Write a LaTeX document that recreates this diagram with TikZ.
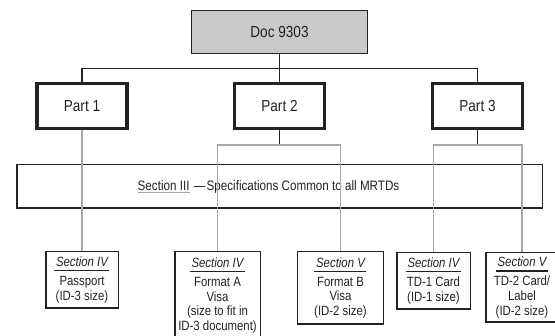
\documentclass[tikz,border=0pt]{standalone}
\usepackage{fontspec}
\setmainfont{Liberation Sans}[FakeStretch=0.85]
\usepackage{xcolor}

\definecolor{docgray}{HTML}{C9C9C9}
\definecolor{wiregray}{HTML}{A8A8A8}
\definecolor{ink}{HTML}{222222}

% underlined italic heading of a section box
\newcommand\secttl[1]{\setbox0\hbox{\itshape #1}\rlap{\kern-2pt\color{ink}\vrule width \dimexpr\wd0+3.5pt\relax height -3.3pt depth 4.8pt}\box0}
% thin grey underline
\newcommand\secthree[1]{\setbox0\hbox{#1}\rlap{\color{wiregray}\vrule width \wd0 height -0.9pt depth 1.8pt}\box0}

\begin{document}
\begin{tikzpicture}[x=1pt,y=-1pt,
  every node/.style={text=ink},
  docbox/.style={draw=ink,line width=1.5pt,fill=docgray,minimum width=176pt,minimum height=43pt,font=\fontsize{16}{19}\selectfont},
  partbox/.style={draw=ink,line width=3.2pt,minimum width=90pt,minimum height=44.8pt,font=\fontsize{16}{19}\selectfont},
  sectbox/.style={draw=ink,line width=1.5pt,align=center,anchor=north,font=\fontsize{13.4}{14.7}\selectfont},
  trunk/.style={draw=ink,line width=1.2pt},
  feed/.style={draw=wiregray,line width=1.3pt}]
\useasboundingbox (0,0) rectangle (555,336);

% document and its three parts
\node[docbox] (doc) at (279.5,32) {Doc 9303};
\node[partbox] (part1) at (82,106) {Part 1};
\node[partbox] (part2) at (279.5,106) {Part 2};
\node[partbox] (part3) at (477.5,106) {Part 3};

% common band
\node[draw=ink,line width=1.5pt,minimum width=525.5pt,minimum height=43.5pt] (sect3) at (279.5,186.5) {};
\node[anchor=base,font=\fontsize{13.7}{16}\selectfont] (sect3txt) at (268.5,190.7)
  {\secthree{Section III}\hspace{4.5pt}\textemdash\kern1pt Specifications Common to all MRTDs};

% document types
\node[sectbox,minimum width=72.5pt,minimum height=56.5pt] (passport) at (82,251)
  {\secttl{Section IV}\\[4.3pt]Passport\\(ID-3 size)};
\node[sectbox,minimum width=85.5pt,minimum height=87.7pt] (fmtA) at (217.5,251)
  {\secttl{Section IV}\\[4.3pt]Format A\\Visa\\(size to fit in\\ID-3 document)};
\node[sectbox,minimum width=86pt,minimum height=72.5pt] (fmtB) at (340.5,251)
  {\secttl{Section V}\\[4.3pt]Format B\\Visa\\(ID-2 size)};
\node[sectbox,minimum width=73.5pt,minimum height=56.5pt] (td1) at (433.5,252)
  {\secttl{Section IV}\\[4.3pt]TD-1 Card\\(ID-1 size)};
\node[sectbox,minimum width=72.5pt,minimum height=69.5pt] (td2) at (522,252)
  {\secttl{Section V}\\[4.3pt]TD-2 Card/\\Label\\(ID-2 size)};

% connectors
\coordinate (bus) at (0,68.5);
\coordinate (split) at (0,145);
\draw[trunk] (doc) -- (part2);
\draw[trunk] (part1.north) -- (part1.north |- bus) -- (part3.north |- bus) -- (part3.north);
\draw[trunk] (part2.south) -- (part2.south |- split);
\draw[trunk] (part3.south) -- (part3.south |- split);
\draw[feed] (part1) -- (passport);
\draw[feed] (fmtA.north) |- (part2.south |- split) -| (fmtB.north);
\draw[feed] (td1.north) |- (part3.south |- split) -| (td2.north);
\end{tikzpicture}
\end{document}
